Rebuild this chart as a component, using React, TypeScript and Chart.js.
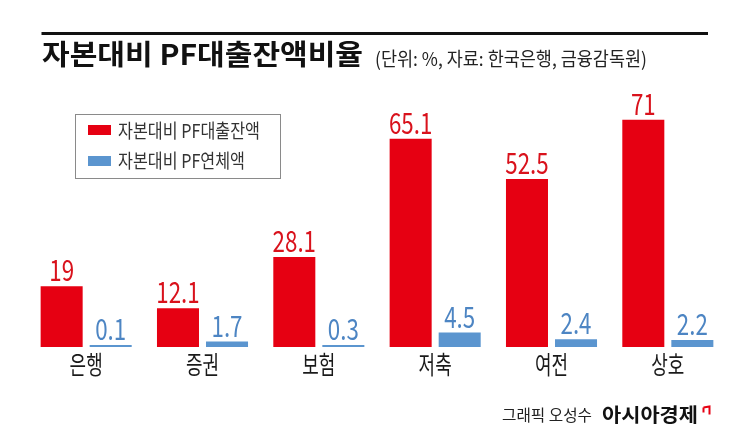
import React, { useEffect, useRef } from "react";
import { Chart, registerables } from "chart.js";
Chart.register(...registerables);

const categories = ["은행", "증권", "보험", "저축", "여전", "상호"];
const loanRatio = [19, 12.1, 28.1, 65.1, 52.5, 71];
const overdueRatio = [0.1, 1.7, 0.3, 4.5, 2.4, 2.2];
const seriesNames = ["자본대비 PF대출잔액", "자본대비 PF연체액"];
const titleText = "자본대비 PF대출잔액비율";
const subtitleText = "(단위: %, 자료: 한국은행, 금융감독원)";
const creditText = "그래픽 오성수";
const brandText = "아시아경제";

const RED = "#e60012";
const BLUE = "#5b95cf";
const RED_TEXT = "#d9121c";
const BLUE_TEXT = "#4d85c3";
const FONT = '"Noto Sans CJK KR", "Noto Sans", sans-serif';

type TOpts = { width?: number; scaleX?: number; align?: "left" | "center"; baseline?: CanvasTextBaseline };

function drawText(ctx: CanvasRenderingContext2D, text: string, x: number, y: number, font: string, color: string, opts: TOpts) {
  ctx.save();
  ctx.font = font;
  ctx.fillStyle = color;
  ctx.textBaseline = opts.baseline || "middle";
  ctx.textAlign = "left";
  const w = ctx.measureText(text).width;
  const sx = opts.width ? opts.width / w : opts.scaleX ?? 1;
  const dw = w * sx;
  const left = opts.align === "center" ? x - dw / 2 : x;
  ctx.translate(left, y);
  ctx.scale(sx, 1);
  ctx.fillText(text, 0, 0);
  ctx.restore();
}

const decorPlugin = {
  id: "decor",
  afterDraw(chart: any) {
    const ctx: CanvasRenderingContext2D = chart.ctx;
    // top rule
    ctx.save();
    ctx.fillStyle = "#111";
    ctx.fillRect(41.5, 32, 666.5, 3);
    ctx.restore();
    // title
    drawText(ctx, titleText, 42, 54, `bold 28px ${FONT}`, "#111", { width: 321 });
    drawText(ctx, subtitleText, 375, 59, `19px ${FONT}`, "#222", { width: 272 });

    // legend
    ctx.save();
    ctx.strokeStyle = "#8a8a8a";
    ctx.lineWidth = 1;
    ctx.strokeRect(75.5, 114.5, 205, 64);
    ctx.fillStyle = chart.data.datasets[0].backgroundColor;
    ctx.fillRect(88, 125, 23, 10);
    ctx.fillStyle = chart.data.datasets[1].backgroundColor;
    ctx.fillRect(88, 156, 23, 10);
    ctx.restore();
    drawText(ctx, chart.data.datasets[0].label, 118, 131, `19px ${FONT}`, "#333", { width: 142 });
    drawText(ctx, chart.data.datasets[1].label, 118, 161, `19px ${FONT}`, "#333", { width: 127 });

    // value labels
    const colors = [RED_TEXT, BLUE_TEXT];
    chart.data.datasets.forEach((ds: any, di: number) => {
      const meta = chart.getDatasetMeta(di);
      meta.data.forEach((bar: any, i: number) => {
        drawText(ctx, String(ds.data[i]), bar.x, bar.y - 5, `29px ${FONT}`, colors[di], {
          scaleX: 0.77,
          align: "center",
          baseline: "alphabetic",
        });
      });
    });

    // category labels
    const xs = chart.scales.x;
    chart.data.labels.forEach((lab: string, i: number) => {
      drawText(ctx, lab, xs.getPixelForValue(i), 364, `25px ${FONT}`, "#1a1a1a", { scaleX: 0.72, align: "center" });
    });

    // footer
    drawText(ctx, creditText, 502, 415, `16px ${FONT}`, "#222", { width: 90 });
    drawText(ctx, brandText, 602, 414.5, `bold 19px ${FONT}`, "#111", { width: 96 });
    ctx.save();
    ctx.strokeStyle = "#e60012";
    ctx.lineWidth = 2;
    ctx.beginPath();
    ctx.moveTo(703.5, 407.5);
    ctx.lineTo(709.5, 406.5);
    ctx.lineTo(709.5, 414.5);
    ctx.moveTo(703.5, 407.5);
    ctx.lineTo(703.5, 412.5);
    ctx.stroke();
    ctx.restore();
  },
};

export default function App() {
  const ref = useRef<HTMLCanvasElement | null>(null);
  useEffect(() => {
    if (!ref.current) return;
    const chart = new Chart(ref.current, {
      type: "bar",
      data: {
        labels: categories,
        datasets: [
          {
            label: seriesNames[0],
            data: loanRatio,
            backgroundColor: RED,
            categoryPercentage: 0.843,
            barPercentage: 0.857,
            borderWidth: 0,
          },
          {
            label: seriesNames[1],
            data: overdueRatio,
            backgroundColor: BLUE,
            categoryPercentage: 0.843,
            barPercentage: 0.857,
            borderWidth: 0,
            minBarLength: 2,
          },
        ],
      },
      options: {
        animation: false,
        responsive: false,
        devicePixelRatio: 1,
        layout: { padding: { top: 91, bottom: 94, left: 28, right: 19 } },
        scales: {
          x: { display: false },
          y: { display: false, min: 0, max: 80 },
        },
        plugins: { legend: { display: false }, tooltip: { enabled: false } },
      },
      plugins: [decorPlugin],
    });
    return () => chart.destroy();
  }, []);
  return (
    <div style={{ position: "absolute", left: 0, top: 0, width: 745, height: 441, background: "#fff" }}>
      <canvas ref={ref} width={745} height={441} />
    </div>
  );
}
